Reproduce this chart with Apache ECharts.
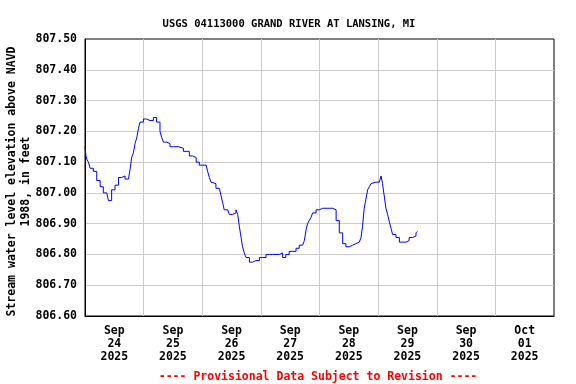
<!DOCTYPE html>
<html>
<head>
<meta charset="utf-8">
<script src="https://cdn.jsdelivr.net/npm/echarts@6/dist/echarts.min.js"></script>
<style>html,body{margin:0;padding:0;background:#fff}#c{width:576px;height:384px}</style>
</head>
<body>
<div id="c"></div>
<script>
// Hours since 2025-09-24 00:00 and gage height (ft above NAVD 1988)
const hours = [0,0.4,0.7,1.4,2.1,3.4,4.8,6.2,7.5,8.9,9.6,10.9,12.3,13.7,15.0,16.4,17.8,18.5,19.1,19.8,20.5,21.2,21.9,22.5,23.9,25.2,26.6,28.0,29.3,30.7,31.4,32.1,33.4,34.8,36.2,38.2,40.3,42.7,44.1,45.5,46.8,48.2,49.6,50.2,50.9,51.6,52.3,53.6,55.0,55.7,56.3,57.0,58.4,59.1,60.4,61.8,62.5,63.2,63.9,64.5,65.2,65.9,67.3,68.6,70.0,71.4,72.7,74.1,75.5,76.8,78.2,79.5,80.9,82.2,83.6,85.0,86.4,87.7,89.1,89.8,90.5,91.1,91.8,92.5,93.2,94.6,95.9,97.3,98.7,100.0,101.4,102.8,104.1,105.5,106.8,108.2,109.5,110.9,112.3,113.0,113.6,114.3,115.0,115.7,116.4,117.1,117.7,119.1,120.5,121.2,121.8,122.5,123.2,123.9,124.6,125.3,125.9,127.3,128.7,130.0,131.4,132.7,134.1,135.5,136.1];
const stage = [807.15,807.12,807.11,807.10,807.08,807.07,807.04,807.02,807.00,807.00,806.975,807.01,807.025,807.05,807.055,807.045,807.05,807.08,807.115,807.13,807.16,807.18,807.21,807.23,807.24,807.235,807.235,807.245,807.23,807.20,807.18,807.165,807.16,807.15,807.15,807.145,807.135,807.12,807.115,807.10,807.09,807.09,807.09,807.07,807.05,807.035,807.03,807.015,807.01,806.99,806.97,806.945,806.94,806.93,806.935,806.945,806.93,806.89,806.855,806.825,806.805,806.79,806.775,806.78,806.78,806.79,806.79,806.80,806.80,806.80,806.80,806.805,806.79,806.80,806.81,806.81,806.82,806.83,806.835,806.845,806.88,806.90,806.91,806.92,806.935,806.945,806.95,806.95,806.95,806.95,806.945,806.91,806.87,806.835,806.825,806.83,806.835,806.84,806.84,806.855,806.89,806.95,806.98,807.01,807.02,807.03,807.035,807.035,807.04,807.055,807.03,806.99,806.95,806.93,806.905,806.885,806.865,806.855,806.84,806.84,806.845,806.855,806.86,806.87,806.875];
const dayLabels = ['Sep\n24\n2025','Sep\n25\n2025','Sep\n26\n2025','Sep\n27\n2025','Sep\n28\n2025','Sep\n29\n2025','Sep\n30\n2025','Oct\n01\n2025'];
const titleText = 'USGS 04113000 GRAND RIVER AT LANSING, MI';
const yName = 'Stream water level elevation above NAVD\n1988, in feet';
const footer = '---- Provisional Data Subject to Revision ----';

const FONT = '"DejaVu Sans Mono", monospace';
const chart = echarts.init(document.getElementById('c'), null, {renderer: 'canvas'});
chart.setOption({
  animation: false,
  backgroundColor: '#fff',
  title: [
    {text: titleText, left: 284, top: 14, textAlign: 'center',
     textStyle: {fontFamily: FONT, fontWeight: 'bold', fontSize: 10.5, color: '#000'}},
    {text: footer, left: 313, top: 366, textAlign: 'center',
     textStyle: {fontFamily: FONT, fontWeight: 'bold', fontSize: 11.5, color: '#ff0000'}}
  ],
  grid: {left: 85, right: 22, top: 39, bottom: 68, containLabel: false, outerBoundsMode: 'none',
         show: true, borderColor: '#000', borderWidth: 1, backgroundColor: '#fff'},
  xAxis: [
    {type: 'value', min: 0, max: 192, interval: 24,
     axisLine: {show: true, lineStyle: {color: '#000', width: 1}},
     axisTick: {show: false}, axisLabel: {show: false},
     splitLine: {show: true, showMinLine: false, showMaxLine: false, lineStyle: {color: '#cccccc', width: 1}}},
    {type: 'category', data: dayLabels, boundaryGap: true, position: 'bottom',
     axisLine: {show: false}, axisTick: {show: false}, splitLine: {show: false},
     axisLabel: {fontFamily: FONT, fontWeight: 'bold', fontSize: 11.5, color: '#000', lineHeight: 13, margin: 9, interval: 0}}
  ],
  yAxis: {
    type: 'value', min: 806.6, max: 807.5, interval: 0.1,
    name: yName, nameLocation: 'middle', nameGap: 52, nameRotate: 90, nameMoveOverlap: false,
    nameTextStyle: {fontFamily: FONT, fontWeight: 'bold', fontSize: 11.5, color: '#000', lineHeight: 13.7, padding: [0, 8, 0, 0]},
    axisLine: {show: true, lineStyle: {color: '#000', width: 1}},
    axisTick: {show: false},
    axisLabel: {fontFamily: FONT, fontWeight: 'bold', fontSize: 11.5, color: '#000', margin: 8,
      formatter: v => v.toFixed(2)},
    splitLine: {show: true, showMinLine: false, showMaxLine: false, lineStyle: {color: '#cccccc', width: 1}}
  },
  series: [{
    type: 'line', xAxisIndex: 0, showSymbol: false, symbol: 'none', step: 'end',
    lineStyle: {color: '#0000ff', width: 1},
    data: hours.map((h, i) => [h, stage[i]])
  }]
});
</script>
</body>
</html>
